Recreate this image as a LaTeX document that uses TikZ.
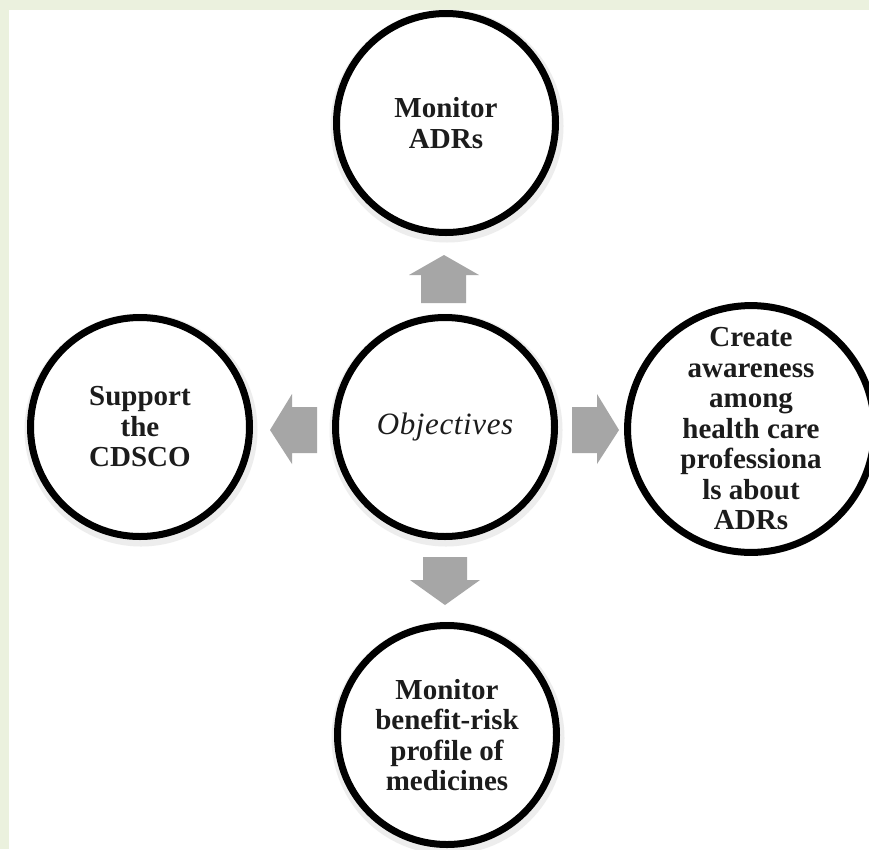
\documentclass[tikz,border=0pt]{standalone}
\usepackage{fontspec}
\setmainfont{Liberation Serif}
\newfontfamily\objfont[LetterSpace=2]{Liberation Serif}
\definecolor{bggreen}{RGB}{235,241,222}
\definecolor{arrowgray}{RGB}{166,166,166}
\definecolor{txt}{RGB}{28,28,28}
\tikzset{
  objcircle/.style={circle, draw=black, line width=7pt, fill=white,
    minimum size=219pt, inner sep=0pt, align=center, text=txt,
    font=\bfseries\fontsize{29}{30.5}\selectfont},
  centercircle/.style={objcircle, font=\objfont\itshape\fontsize{31}{33}\selectfont},
  blockarrow/.style={fill=arrowgray, draw=none},
  halo/.style={circle, fill=black!7, draw=none, minimum size=233pt, inner sep=0pt}
}
\begin{document}
\begin{tikzpicture}[x=1pt,y=-1pt]
\useasboundingbox (0,0) rectangle (869,849);
\fill[bggreen] (0,0) rectangle (869,849);
\fill[white] (9,10) rectangle (869,849);
% soft halos
\node[halo] at (447,126) {};
\node[halo] at (446,430) {};
\node[halo] at (141,430) {};
\node[halo] at (752,432) {};
\node[halo] at (448,738) {};
% circles
\node[objcircle] (top) at (446,123) {Monitor\\ADRs};
\node[centercircle] (center) at (445,427) {Objectives};
\node[objcircle] (left) at (140,427) {Support\\the\\CDSCO};
\node[objcircle] (right) at (751,429) {Create\\awareness\\among\\health care\\professiona\\ls about\\ADRs};
\node[objcircle] (bottom) at (447,735) {Monitor\\benefit-risk\\profile of\\medicines};
% block arrows
\fill[blockarrow] (421,303) -- (421,275) -- (409,275) -- (444,255) -- (479,275) -- (466,275) -- (466,303) -- cycle;
\fill[blockarrow] (423,557) -- (423,580) -- (410,580) -- (445,605) -- (480,580) -- (467,580) -- (467,557) -- cycle;
\fill[blockarrow] (317,407) -- (292,407) -- (292,394) -- (270,430) -- (292,464) -- (292,453) -- (317,453) -- cycle;
\fill[blockarrow] (572,407) -- (597,407) -- (597,394) -- (619,430) -- (597,464) -- (597,453) -- (572,453) -- cycle;
\end{tikzpicture}
\end{document}
